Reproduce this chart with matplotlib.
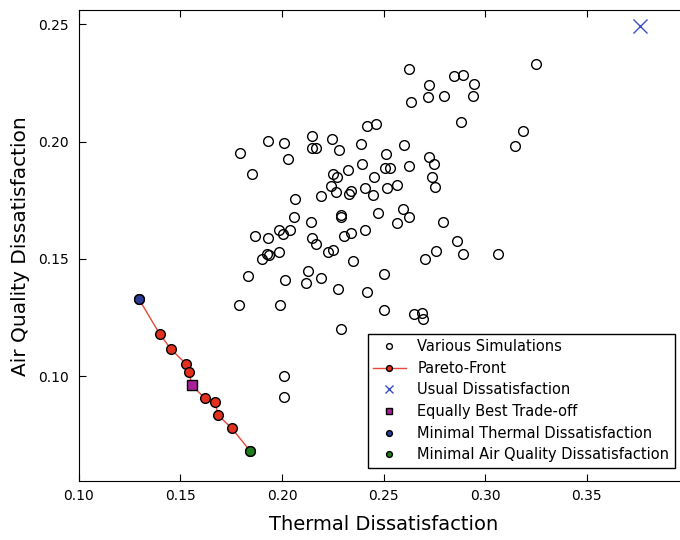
import matplotlib
matplotlib.use('Agg')
import matplotlib.pyplot as plt

# Various simulations (thermal, air quality)
sim_thermal = [
    0.1792, 0.1930, 0.2012, 0.2150, 0.2150, 0.2169, 0.2248, 0.2282, 0.2419, 0.2465,
    0.2391, 0.2393, 0.2032, 0.1853, 0.2249, 0.2270, 0.2323, 0.2452, 0.2239, 0.2264,
    0.2328, 0.2339, 0.2411, 0.2449, 0.2064, 0.2193, 0.2057, 0.2145, 0.2289, 0.2293,
    0.2472, 0.1866, 0.1933, 0.1986, 0.2006, 0.2040, 0.2150, 0.2169, 0.2307, 0.2339,
    0.2411, 0.1924, 0.1937, 0.1904, 0.1983, 0.2229, 0.2250, 0.2349, 0.1833, 0.2017,
    0.2126, 0.2116, 0.2193, 0.2276, 0.2421, 0.1789, 0.1990, 0.2292, 0.2011, 0.2008,
    0.2627, 0.3250, 0.2846, 0.2890, 0.2722, 0.2944, 0.2637, 0.2721, 0.2798, 0.2939,
    0.2880, 0.3189, 0.3148, 0.2603, 0.2510, 0.2722, 0.2751, 0.2505, 0.2530, 0.2626,
    0.2519, 0.2565, 0.2737, 0.2755, 0.2598, 0.2624, 0.2565, 0.2791, 0.2860, 0.2760,
    0.2703, 0.2890, 0.3065, 0.2501, 0.2501, 0.2650, 0.2690, 0.2693,
]
sim_air = [
    0.1953, 0.2003, 0.1993, 0.2023, 0.1974, 0.1972, 0.2010, 0.1962, 0.2065, 0.2074,
    0.1991, 0.1906, 0.1925, 0.1860, 0.1862, 0.1849, 0.1877, 0.1849, 0.1810, 0.1787,
    0.1778, 0.1790, 0.1802, 0.1774, 0.1755, 0.1766, 0.1677, 0.1657, 0.1689, 0.1679,
    0.1695, 0.1599, 0.1590, 0.1622, 0.1606, 0.1623, 0.1589, 0.1564, 0.1596, 0.1610,
    0.1623, 0.1521, 0.1517, 0.1498, 0.1531, 0.1530, 0.1538, 0.1489, 0.1427, 0.1408,
    0.1448, 0.1399, 0.1420, 0.1373, 0.1360, 0.1302, 0.1302, 0.1199, 0.1000, 0.0910,
    0.2310, 0.2330, 0.2278, 0.2286, 0.2243, 0.2246, 0.2168, 0.2188, 0.2196, 0.2193,
    0.2082, 0.2045, 0.1983, 0.1984, 0.1949, 0.1936, 0.1903, 0.1888, 0.1888, 0.1894,
    0.1802, 0.1814, 0.1851, 0.1805, 0.1712, 0.1679, 0.1652, 0.1657, 0.1574, 0.1535,
    0.1499, 0.1519, 0.1520, 0.1435, 0.1281, 0.1264, 0.1267, 0.1244,
]

# Pareto front, ordered from minimal thermal to minimal air quality
pareto_thermal = [0.1296, 0.1399, 0.1454, 0.1529, 0.1542, 0.1556, 0.1620, 0.1671, 0.1685, 0.1753, 0.1845]
pareto_air = [0.1328, 0.1178, 0.1114, 0.1051, 0.1018, 0.0960, 0.0906, 0.0889, 0.0834, 0.0777, 0.0679]

usual = (0.3765, 0.2491)
best_tradeoff = (0.1556, 0.0960)
min_thermal = (0.1296, 0.1328)
min_air = (0.1845, 0.0679)

fig = plt.figure(figsize=(6.8, 5.4), dpi=100)
ax = fig.add_axes([0.116, 0.109, 0.896, 0.872])

ax.plot(sim_thermal, sim_air, 'o', ls='none', mfc='none', mec='black', mew=1,
        ms=7, label='Various Simulations')
ax.plot(pareto_thermal, pareto_air, '-o', color='#e8473a', lw=1, mfc='#e2311f',
        mec='black', mew=1, ms=7, label='Pareto-Front')
ax.plot(*usual, 'x', color='#3a4fc4', ms=10, mew=1, ls='none', label='Usual Dissatisfaction')
ax.plot(*best_tradeoff, 's', mfc='#a8209a', mec='black', mew=1, ms=7, ls='none',
        label='Equally Best Trade-off')
ax.plot(*min_thermal, 'o', mfc='#2b3c92', mec='black', mew=1, ms=7, ls='none',
        label='Minimal Thermal Dissatisfaction')
ax.plot(*min_air, 'o', mfc='#1d7d1d', mec='black', mew=1, ms=7, ls='none',
        label='Minimal Air Quality Dissatisfaction')

ax.set_xlim(0.10, 0.40)
ax.set_ylim(0.0552, 0.256)
ax.set_xticks([0.10, 0.15, 0.20, 0.25, 0.30, 0.35])
ax.set_yticks([0.10, 0.15, 0.20, 0.25])
ax.tick_params(direction='in', top=True, right=True, length=5, labelsize=10)
ax.tick_params(axis='x', pad=6)
ax.tick_params(axis='y', pad=7)

ax.set_xlabel('Thermal Dissatisfaction', fontsize=14, labelpad=8)
ax.set_ylabel('Air Quality Dissatisfaction', fontsize=14.5, labelpad=6)

leg = ax.legend(loc='lower right', fontsize=10.5, numpoints=1, markerscale=0.6,
                fancybox=False, framealpha=1, edgecolor='black',
                borderaxespad=0.9, handlelength=2.2, labelspacing=0.45)
leg.get_frame().set_linewidth(1)

fig.savefig('out.png', dpi=100)
